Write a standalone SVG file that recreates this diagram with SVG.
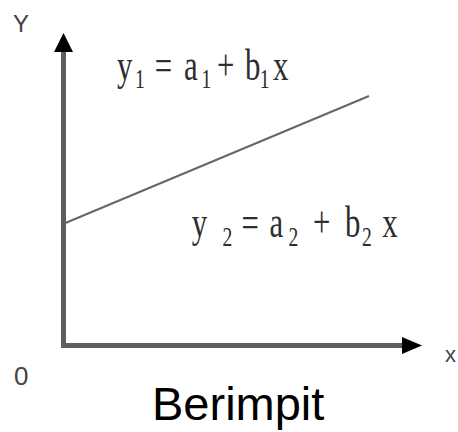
<svg xmlns="http://www.w3.org/2000/svg" width="458" height="432" viewBox="0 0 458 432">
<style>
.eq{font-size:44px;fill:#2e2e2e}
.sub{font-size:28px}
.lbl{font-family:"Liberation Sans",Arial,sans-serif;fill:#444}
.axis{stroke:#5e5e5e;stroke-width:5;fill:none}
.head{fill:#000}
</style>
<rect width="458" height="432" fill="#fff"/>
<g id="connectors">
  <line class="axis" x1="63.5" y1="348" x2="63.5" y2="48"/>
  <polygon class="head" points="63.5,33 54,52 73,52"/>
  <line class="axis" x1="61" y1="345.5" x2="405" y2="345.5"/>
  <polygon class="head" points="422,345.5 402,337 402,354"/>
  <line x1="63" y1="224" x2="369" y2="96" stroke="#666" stroke-width="2"/>
</g>
<g id="label-y"><text class="lbl" x="13" y="32" font-size="24">Y</text></g>
<g id="label-origin"><text class="lbl" x="14" y="385" font-size="26">0</text></g>
<g id="label-x"><text class="lbl" x="445" y="362" font-size="22">x</text></g>
<g id="eq1">
  <text class="eq" font-family="'Liberation Serif', 'DejaVu Serif', serif" transform="scale(0.7,1)" y="80">
    <tspan x="167">y</tspan><tspan class="sub" x="193" y="88">1</tspan><tspan x="221" y="80">=</tspan><tspan x="263">a</tspan><tspan class="sub" x="288" y="88">1</tspan><tspan x="310" y="80">+</tspan><tspan x="350">b</tspan><tspan class="sub" x="371" y="88">1</tspan><tspan x="390" y="80">x</tspan>
  </text>
</g>
<g id="eq2">
  <text class="eq" font-family="'Liberation Serif', 'DejaVu Serif', serif" transform="scale(0.7,1)" y="237">
    <tspan x="274">y</tspan><tspan class="sub" x="318" y="246">2</tspan><tspan x="345" y="237">=</tspan><tspan x="385">a</tspan><tspan class="sub" x="412" y="246">2</tspan><tspan x="447" y="237">+</tspan><tspan x="493">b</tspan><tspan class="sub" x="517" y="246">2</tspan><tspan x="546" y="237">x</tspan>
  </text>
</g>
<g id="caption"><text class="lbl" x="152" y="420" font-size="47" style="fill:#000">Berimpit</text></g>
</svg>
